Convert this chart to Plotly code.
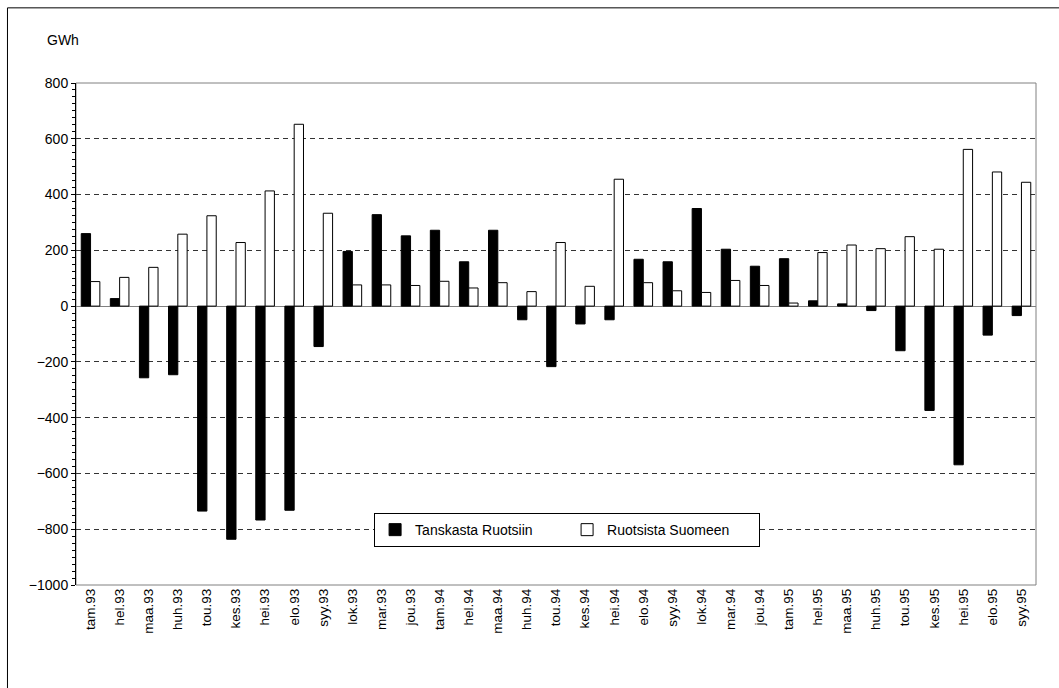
import plotly.graph_objects as go

# Monthly electricity exchange, GWh
months = [
    "tam.93", "hel.93", "maa.93", "huh.93", "tou.93", "kes.93", "hei.93", "elo.93",
    "syy.93", "lok.93", "mar.93", "jou.93", "tam.94", "hel.94", "maa.94", "huh.94",
    "tou.94", "kes.94", "hei.94", "elo.94", "syy.94", "lok.94", "mar.94", "jou.94",
    "tam.95", "hel.95", "maa.95", "huh.95", "tou.95", "kes.95", "hei.95", "elo.95",
    "syy.95",
]
tanskasta_ruotsiin = [
    260, 27, -257, -246, -735, -836, -767, -732,
    -145, 196, 328, 252, 272, 159, 272, -49,
    -217, -64, -49, 168, 159, 350, 204, 143,
    170, 19, 8, -16, -160, -374, -569, -104,
    -34,
]
ruotsista_suomeen = [
    88, 103, 139, 258, 324, 228, 413, 652,
    333, 76, 76, 74, 89, 65, 84, 52,
    228, 71, 455, 84, 55, 49, 92, 74,
    11, 192, 219, 206, 249, 204, 562, 481,
    444,
]
y_ticks = list(range(-1000, 801, 200))

FONT = "Liberation Sans, Arial, sans-serif"

fig = go.Figure()
fig.add_trace(go.Bar(
    x=months, y=tanskasta_ruotsiin, name="Tanskasta Ruotsiin",
    marker=dict(color="black", line=dict(color="black", width=1)),
))
fig.add_trace(go.Bar(
    x=months, y=ruotsista_suomeen, name="Ruotsista Suomeen",
    marker=dict(color="white", line=dict(color="black", width=1)),
))

W, H = 1059, 688
L, R, T, B = 76, 23.3, 82.7, 103
pw, ph = W - L - R, H - T - B

fig.update_layout(
    width=W, height=H,
    margin=dict(l=L, r=R, t=T, b=B),
    paper_bgcolor="white", plot_bgcolor="white",
    barmode="group", bargap=0.36, bargroupgap=0,
    font=dict(family=FONT, size=13.5, color="black"),
    showlegend=True,
    legend=dict(
        orientation="h",
        x=(374 - L) / pw, xanchor="left",
        y=(585 - 513) / ph, yanchor="top",
        bordercolor="black", borderwidth=1, bgcolor="white",
        font=dict(family=FONT, size=14, color="black"),
        entrywidth=147, entrywidthmode="pixels",
        traceorder="normal",
    ),
    xaxis=dict(
        type="category", tickangle=-90,
        showgrid=False, showline=False, zeroline=False,
        ticks="", tickfont=dict(size=13.5),
    ),
    yaxis=dict(
        range=[-1000, 800], tickvals=y_ticks,
        showgrid=True, gridcolor="#333333", griddash="5px,4px", gridwidth=1,
        zeroline=True, zerolinecolor="#808080", zerolinewidth=1,
        showline=True, linecolor="black", linewidth=1,
        ticks="outside", ticklen=4, tickcolor="black",
        minor=dict(dtick=25, ticks="outside", ticklen=3, tickcolor="black", showgrid=False),
        tickfont=dict(size=14),
    ),
    shapes=[
        # plot area frame
        dict(type="rect", xref="paper", yref="paper", x0=0, x1=1, y0=0, y1=1,
             line=dict(color="#808080", width=1), layer="below"),
        # chart frame
        dict(type="rect", xref="paper", yref="paper",
             x0=(7.5 - L) / pw, x1=1.2, y0=-0.5, y1=(585 - 7.5) / ph,
             line=dict(color="black", width=1), layer="below"),
    ],
    annotations=[
        dict(text="GWh", xref="paper", yref="paper",
             x=(45 - L) / pw, y=(585 - 40) / ph, xanchor="left", yanchor="middle",
             showarrow=False, font=dict(family=FONT, size=14, color="black")),
    ],
)

fig.write_html("out.html")
